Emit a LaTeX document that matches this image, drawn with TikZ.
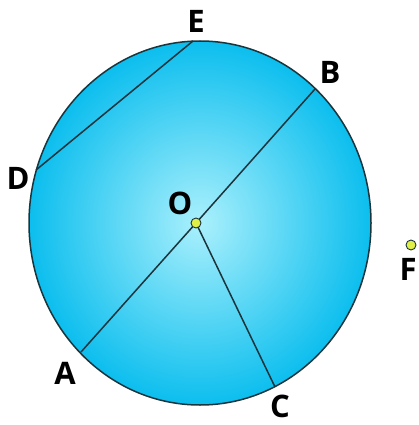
\documentclass[tikz,border=0pt]{standalone}
\usepackage{fontspec}
\setmainfont{Open Sans}
\usepackage{tikz}
\usetikzlibrary{positioning}
\definecolor{lineColor}{RGB}{28, 52, 60}
\definecolor{discInner}{RGB}{170, 240, 252}
\definecolor{discOuter}{RGB}{12, 190, 238}
\definecolor{dotColor}{RGB}{225, 240, 70}

\begin{document}
\begin{tikzpicture}[x=1pt, y=-1pt,
      seg/.style={draw=lineColor, line width=1.5pt},
      lbl/.style={font=\fontsize{31}{34}\selectfont\bfseries, text=black, inner sep=0pt},
      dot/.style={circle, draw=lineColor, fill=dotColor, line width=0.9pt, inner sep=0pt, minimum size=10pt}]
      \useasboundingbox (0,0) rectangle (419,425);

      % the disc
      \draw[seg, inner color=discInner, outer color=discOuter] (200,223) ellipse [x radius=171, y radius=182];

      % points on the rim
      \coordinate (E) at (193,41);
      \coordinate (D) at (36,170);
      \coordinate (B) at (315,89);
      \coordinate (A) at (81,352);
      \coordinate (C) at (275,387);
      \coordinate (Oc) at (196,223);

      % chords and radii
      \draw[seg] (D) -- (E);
      \draw[seg] (A) -- (Oc);
      \draw[seg] (Oc) -- (B);
      \draw[seg] (Oc) -- (C);
      \node[dot] (O) at (Oc) {};
      \node[dot] (F) at (411,245) {};

      % labels
      \node[lbl] (labE) at (196,21) {E};
      \node[lbl] (labB) at (330,72) {B};
      \node[lbl] (labD) at (18,178) {D};
      \node[lbl] (labO) at (180,203) {O};
      \node[lbl] (labA) at (65,373) {A};
      \node[lbl] (labC) at (280,406) {C};
      \node[lbl] (labF) at (408,269) {F};
  \end{tikzpicture}
\end{document}
